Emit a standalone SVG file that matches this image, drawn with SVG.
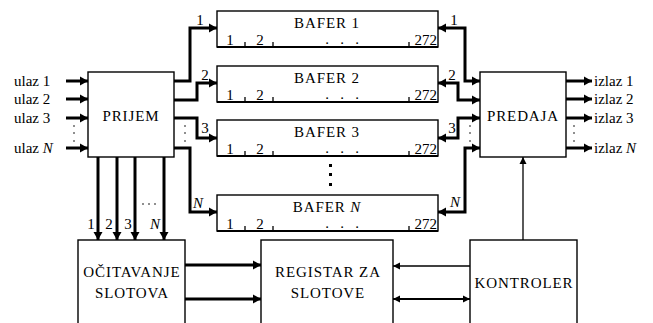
<svg xmlns="http://www.w3.org/2000/svg" width="653" height="323" viewBox="0 0 653 323" font-family="'Liberation Serif', 'Times New Roman', serif" font-size="15">
<style>
text{font-family:'Liberation Serif','Times New Roman',serif;font-size:15px;fill:#000}
.c{text-anchor:middle}
.w{letter-spacing:0.9px}
.box{fill:#fff;stroke:#000;stroke-width:1.4}
.thk{fill:none;stroke:#000;stroke-width:3}
.thn{fill:none;stroke:#000;stroke-width:1.3}
.tk{stroke:#000;stroke-width:1.3}
.dot{fill:#000}
</style>
<defs>
<marker id="ah" markerUnits="userSpaceOnUse" markerWidth="9" markerHeight="10" refX="8" refY="5" orient="auto-start-reverse"><path d="M0,0.5 L8,5 L0,9.5 z" fill="#000"/></marker>
<marker id="at" markerUnits="userSpaceOnUse" markerWidth="8" markerHeight="8" refX="7" refY="4" orient="auto-start-reverse"><path d="M0,0.5 L7,4 L0,7.5 z" fill="#000"/></marker>
<g id="buf">
<rect class="box" x="0" y="0" width="221" height="36"/>
<line x1="0" y1="36" x2="221" y2="36" stroke="#000" stroke-width="2"/>
<line class="tk" x1="28" y1="31" x2="28" y2="36"/>
<line class="tk" x1="56" y1="31" x2="56" y2="36"/>
<line class="tk" x1="192" y1="31" x2="192" y2="36"/>
<text class="c" x="13" y="34">1</text>
<text class="c" x="43" y="34">2</text>
<text class="c" x="110" y="33">.</text>
<text class="c" x="125" y="33">.</text>
<text class="c" x="140" y="33">.</text>
<text x="220" y="34" text-anchor="end">272</text>
</g>
</defs>

<g id="connectors">
<path class="thk" d="M66,81 H88" marker-end="url(#ah)"/>
<path class="thk" d="M66,99 H88" marker-end="url(#ah)"/>
<path class="thk" d="M66,118 H88" marker-end="url(#ah)"/>
<path class="thk" d="M66,148 H88" marker-end="url(#ah)"/>
<path class="thk" d="M174,81 H190 V28 H217" marker-end="url(#ah)"/>
<path class="thk" d="M174,100 H197 V83 H217" marker-end="url(#ah)"/>
<path class="thk" d="M174,118 H197 V138 H217" marker-end="url(#ah)"/>
<path class="thk" d="M174,148 H190 V212 H217" marker-end="url(#ah)"/>
<path class="thk" d="M438,28 H465 V81 H480" marker-start="url(#ah)" marker-end="url(#ah)"/>
<path class="thk" d="M438,83 H458 V100 H480" marker-start="url(#ah)" marker-end="url(#ah)"/>
<path class="thk" d="M438,138 H458 V118 H480" marker-start="url(#ah)" marker-end="url(#ah)"/>
<path class="thk" d="M438,212 H465 V148 H480" marker-start="url(#ah)" marker-end="url(#ah)"/>
<path class="thk" d="M566,81 H592" marker-end="url(#ah)"/>
<path class="thk" d="M566,99 H592" marker-end="url(#ah)"/>
<path class="thk" d="M566,118 H592" marker-end="url(#ah)"/>
<path class="thk" d="M566,148 H592" marker-end="url(#ah)"/>
<path class="thk" d="M98,157 V240" marker-end="url(#ah)"/>
<path class="thk" d="M117,157 V240" marker-end="url(#ah)"/>
<path class="thk" d="M135,157 V240" marker-end="url(#ah)"/>
<path class="thk" d="M164,157 V240" marker-end="url(#ah)"/>
<path class="thk" d="M185,265 H261" marker-end="url(#ah)"/>
<path class="thk" d="M185,299 H261" marker-end="url(#ah)"/>
<path class="thn" d="M470,266 H393" marker-end="url(#at)"/>
<path fill="none" stroke="#000" stroke-width="2.2" d="M470,299 H393" marker-start="url(#at)" marker-end="url(#at)"/>
<path class="thn" d="M523,240 V157" marker-end="url(#at)"/>
<text class="c" x="200" y="25">1</text>
<text class="c" x="205" y="80">2</text>
<text class="c" x="205" y="133">3</text>
<text class="c" x="198" y="208" font-style="italic">N</text>
<text class="c" x="454" y="25">1</text>
<text class="c" x="452" y="80">2</text>
<text class="c" x="452" y="133">3</text>
<text class="c" x="455" y="207" font-style="italic">N</text>
<text class="c" x="91" y="229">1</text>
<text class="c" x="109" y="229">2</text>
<text class="c" x="128" y="229">3</text>
<text class="c" x="155" y="229" font-style="italic">N</text>
<circle class="dot" cx="143" cy="204" r="0.8"/>
<circle class="dot" cx="149" cy="204" r="0.8"/>
<circle class="dot" cx="155" cy="204" r="0.8"/>
<g class="dot">
<circle cx="74" cy="126" r="0.8"/><circle cx="74" cy="133" r="0.8"/><circle cx="74" cy="141" r="0.8"/>
<circle cx="185" cy="126" r="0.8"/><circle cx="185" cy="133" r="0.8"/><circle cx="185" cy="141" r="0.8"/>
<circle cx="470" cy="126" r="0.8"/><circle cx="470" cy="133" r="0.8"/><circle cx="470" cy="141" r="0.8"/>
<circle cx="574" cy="126" r="0.8"/><circle cx="574" cy="133" r="0.8"/><circle cx="574" cy="141" r="0.8"/>
<rect x="329" y="164" width="3" height="3"/><rect x="329" y="173" width="3" height="3"/><rect x="329" y="183" width="3" height="3"/>
</g>
</g>

<g id="inputs">
<text x="14" y="86">ulaz 1</text>
<text x="14" y="104">ulaz 2</text>
<text x="14" y="123">ulaz 3</text>
<text x="14" y="153">ulaz <tspan font-style="italic">N</tspan></text>
</g>
<g id="outputs">
<text x="594" y="86">izlaz 1</text>
<text x="594" y="104">izlaz 2</text>
<text x="594" y="123">izlaz 3</text>
<text x="594" y="153">izlaz <tspan font-style="italic">N</tspan></text>
</g>

<g id="prijem">
<rect class="box" x="88" y="72" width="86" height="85"/>
<text class="c w" x="131" y="121">PRIJEM</text>
</g>
<g id="predaja">
<rect class="box" x="480" y="72" width="86" height="85"/>
<text class="c w" x="523" y="121">PREDAJA</text>
</g>

<g id="bafer1">
<use href="#buf" x="217" y="11"/>
<text class="c w" x="327" y="28">BAFER 1</text>
</g>
<g id="bafer2">
<use href="#buf" x="217" y="66"/>
<text class="c w" x="327" y="83">BAFER 2</text>
</g>
<g id="bafer3">
<use href="#buf" x="217" y="120"/>
<text class="c w" x="327" y="137">BAFER 3</text>
</g>
<g id="baferN">
<use href="#buf" x="217" y="195"/>
<text class="c w" x="327" y="212">BAFER <tspan font-style="italic">N</tspan></text>
</g>

<g id="ocitavanje">
<rect class="box" x="78" y="240" width="107" height="95"/>
<text class="c w" x="132" y="277">OČITAVANJE</text>
<text class="c w" x="132" y="298">SLOTOVA</text>
</g>
<g id="registar">
<rect class="box" x="261" y="240" width="132" height="95"/>
<text class="c w" x="328" y="277">REGISTAR ZA</text>
<text class="c w" x="328" y="298">SLOTOVE</text>
</g>
<g id="kontroler">
<rect class="box" x="470" y="240" width="107" height="95"/>
<text class="c w" x="524" y="288">KONTROLER</text>
</g>
</svg>
